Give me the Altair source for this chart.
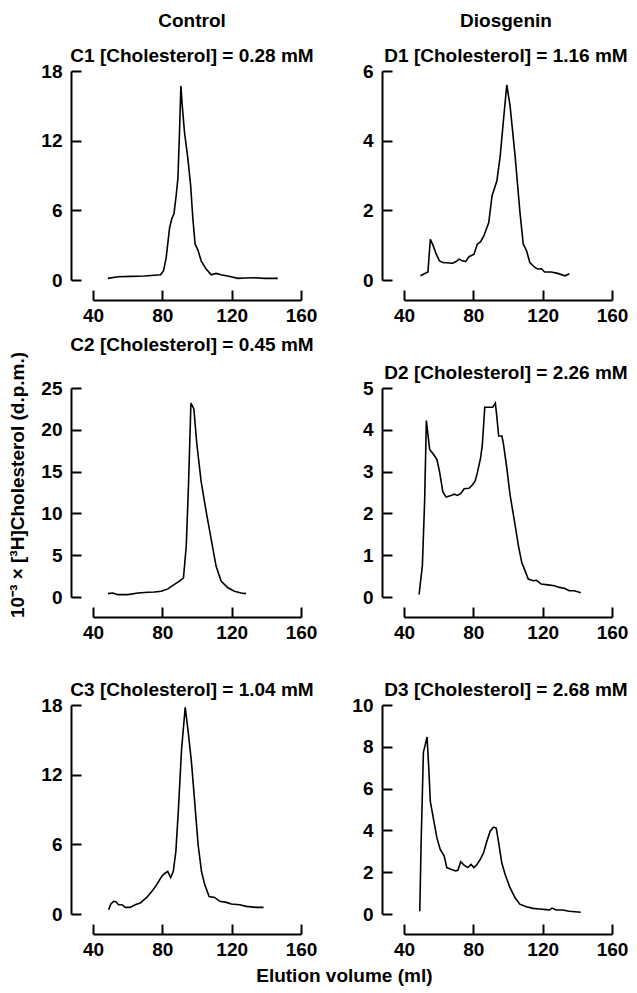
import altair as alt
import pandas as pd

FONT = "Liberation Sans"
FS = 19

# ---- data ----
c1_x = [48.6, 54.4, 62.1, 69.8, 79.0, 80.7, 82.2, 84.2, 85.5, 86.7, 88.0, 89.0, 89.9, 90.7, 91.5, 92.8, 94.7, 96.3, 97.6, 98.9, 100.5, 102.4, 105.3, 108.2, 111.0, 113.9, 119.7, 123.5, 127.4, 133.1, 138.9, 146.6]
c1_y = [0.14, 0.28, 0.31, 0.34, 0.45, 0.8, 1.9, 4.5, 5.3, 5.7, 7.3, 8.8, 12.7, 16.7, 15.0, 12.7, 10.5, 8.2, 5.3, 3.1, 2.6, 1.65, 0.94, 0.45, 0.57, 0.45, 0.28, 0.14, 0.17, 0.2, 0.14, 0.14]

d1_x = [49.5, 52.9, 53.8, 55.2, 56.7, 58.6, 60.5, 62.4, 68.1, 70.0, 71.8, 73.7, 75.6, 77.5, 80.4, 82.3, 84.2, 86.1, 88.9, 90.8, 93.6, 95.5, 97.4, 99.3, 101.2, 104.1, 106.9, 108.8, 110.7, 112.6, 115.5, 117.4, 119.2, 121.1, 124.9, 128.7, 132.9, 135.4]
d1_y = [0.12, 0.21, 0.23, 1.17, 1.0, 0.74, 0.55, 0.5, 0.48, 0.53, 0.6, 0.55, 0.53, 0.67, 0.74, 1.03, 1.1, 1.27, 1.65, 2.42, 2.85, 3.56, 4.6, 5.6, 5.0, 3.56, 1.94, 1.03, 0.84, 0.5, 0.36, 0.31, 0.33, 0.23, 0.23, 0.19, 0.12, 0.18]

c2_x = [48.6, 51.5, 54.4, 60.2, 65.9, 71.7, 75.5, 79.4, 83.2, 87.0, 89.9, 92.2, 93.8, 95.1, 96.5, 98.2, 99.9, 102.4, 105.3, 108.2, 111.0, 113.9, 117.8, 121.6, 125.4, 128.3]
c2_y = [0.4, 0.48, 0.28, 0.28, 0.48, 0.57, 0.6, 0.69, 0.97, 1.5, 1.9, 2.3, 6.1, 13.4, 23.2, 22.5, 18.3, 13.8, 10.2, 6.9, 3.7, 1.9, 1.1, 0.69, 0.48, 0.4]

d2_x = [48.7, 50.6, 51.9, 52.9, 54.8, 57.1, 59.0, 60.5, 62.4, 64.3, 67.1, 69.0, 70.9, 72.8, 74.7, 77.5, 79.4, 81.0, 82.3, 84.2, 85.2, 86.6, 88.9, 91.2, 92.7, 93.6, 94.6, 96.5, 97.4, 99.3, 101.2, 104.1, 106.0, 107.9, 109.8, 111.7, 114.5, 116.4, 119.2, 123.0, 126.8, 129.6, 132.5, 135.4, 138.3, 142.0]
d2_y = [0.06, 0.75, 2.3, 4.22, 3.53, 3.41, 3.29, 3.0, 2.52, 2.39, 2.43, 2.46, 2.43, 2.48, 2.59, 2.6, 2.68, 2.77, 2.97, 3.33, 3.65, 4.54, 4.54, 4.54, 4.64, 4.3, 3.85, 3.85, 3.65, 3.09, 2.44, 1.72, 1.23, 0.83, 0.63, 0.43, 0.39, 0.4, 0.31, 0.29, 0.27, 0.23, 0.21, 0.15, 0.15, 0.1]

c3_x = [49.0, 50.3, 51.9, 53.4, 54.7, 56.7, 58.6, 61.4, 64.3, 67.2, 71.0, 73.9, 76.7, 79.6, 81.5, 83.1, 84.8, 86.3, 87.8, 89.2, 91.1, 93.2, 94.9, 96.8, 98.8, 100.7, 102.6, 104.5, 107.0, 110.2, 113.1, 116.9, 119.8, 124.6, 128.4, 134.2, 138.4]
c3_y = [0.37, 0.86, 1.09, 1.03, 0.8, 0.8, 0.57, 0.57, 0.8, 0.94, 1.43, 1.94, 2.51, 3.23, 3.51, 3.66, 3.14, 3.66, 5.37, 8.8, 14.2, 17.8, 15.7, 13.1, 9.4, 5.9, 3.66, 2.51, 1.51, 1.43, 1.09, 1.0, 0.86, 0.8, 0.66, 0.57, 0.57]

d3_x = [49.1, 49.9, 51.2, 52.2, 53.3, 54.2, 55.2, 57.1, 59.0, 60.9, 63.2, 64.7, 67.0, 69.8, 71.1, 72.7, 74.6, 76.8, 78.7, 80.3, 82.1, 84.0, 85.9, 87.8, 89.7, 91.6, 93.2, 94.5, 96.4, 98.3, 101.1, 104.0, 106.8, 110.6, 114.4, 118.2, 122.0, 123.9, 125.4, 127.7, 131.5, 135.3, 142.0]
d3_y = [0.13, 3.48, 7.75, 8.07, 8.47, 7.12, 5.38, 4.5, 3.64, 3.09, 2.77, 2.22, 2.14, 2.06, 2.09, 2.5, 2.34, 2.22, 2.37, 2.22, 2.37, 2.61, 2.93, 3.48, 3.96, 4.15, 4.11, 3.48, 2.45, 1.9, 1.27, 0.79, 0.47, 0.35, 0.27, 0.24, 0.21, 0.19, 0.28, 0.19, 0.19, 0.13, 0.08]

x_ticks = [40, 80, 120, 160]
panel_titles = ["C1 [Cholesterol] = 0.28 mM", "D1 [Cholesterol] = 1.16 mM",
                "C2 [Cholesterol] = 0.45 mM", "D2 [Cholesterol] = 2.26 mM",
                "C3 [Cholesterol] = 1.04 mM", "D3 [Cholesterol] = 2.68 mM"]
column_titles = ["Control", "Diosgenin"]
y_ticks = [[0, 6, 12, 18], [0, 2, 4, 6],
           [0, 5, 10, 15, 20, 25], [0, 1, 2, 3, 4, 5],
           [0, 6, 12, 18], [0, 2, 4, 6, 8, 10]]
y_title = "10\u207b\u00b3 \u00d7 [\u00b3H]Cholesterol (d.p.m.)"
x_title = "Elution volume (ml)"

series = [(c1_x, c1_y), (d1_x, d1_y), (c2_x, c2_y), (d2_x, d2_y), (c3_x, c3_y), (d3_x, d3_y)]

W, H = 208, 209


def panel(i):
    xs, ys = series[i]
    df = pd.DataFrame({"x": xs, "y": ys})
    yt = y_ticks[i]
    xscale = alt.Scale(domain=[40, 160], nice=False, zero=False)
    yscale = alt.Scale(domain=[0, yt[-1]], nice=False)
    lab = dict(labelFont=FONT, labelFontSize=FS, labelFontWeight="bold", labelColor="black")
    ax_a = alt.Axis(orient="bottom", offset=20, values=x_ticks, ticks=False, tickSize=0,
                    domain=True, domainColor="black", domainWidth=2, labelPadding=6,
                    grid=False, title=None, labelFlush=False, **lab)
    ax_b = alt.Axis(orient="bottom", offset=10, values=x_ticks, ticks=True, tickSize=10,
                    tickWidth=2, tickColor="black", domain=False, labels=False,
                    grid=False, title=None)
    ay_kw = dict(orient="left", offset=22, values=yt, ticks=False, tickSize=0,
                 domain=True, domainColor="black", domainWidth=2, labelPadding=9,
                 grid=False, labelFlush=False, **lab)
    if i == 2:
        ay_a = alt.Axis(title=y_title, titleFont=FONT, titleFontSize=FS, titleFontWeight="bold",
                        titleColor="black", titlePadding=13, titleY=H / 2 - 8, **ay_kw)
    else:
        ay_a = alt.Axis(title=None, **ay_kw)
    ay_b = alt.Axis(orient="left", offset=12, values=yt, ticks=True, tickSize=10,
                    tickWidth=2, tickColor="black", domain=False, labels=False,
                    grid=False, title=None)
    line = alt.Chart(df).mark_line(color="black", strokeWidth=1.6).encode(
        x=alt.X("x:Q", scale=xscale, axis=ax_a),
        y=alt.Y("y:Q", scale=yscale, axis=ay_a),
    )
    ghost = alt.Chart(df).mark_line(strokeOpacity=0).encode(
        x=alt.X("x:Q", scale=xscale, axis=ax_b),
        y=alt.Y("y:Q", scale=yscale, axis=ay_b),
    )
    tkw = dict(font=FONT, fontSize=FS, fontWeight="bold", color="black",
               anchor="middle", frame="group", offset=-4, dx=-5 if i % 2 == 0 else -2)
    if i < 2:
        title = alt.TitleParams(text=column_titles[i], subtitle=panel_titles[i],
                                subtitleFont=FONT, subtitleFontSize=FS,
                                subtitleFontWeight="bold", subtitleColor="black",
                                subtitlePadding=16, **tkw)
    else:
        title = alt.TitleParams(text=panel_titles[i], **tkw)
    return alt.layer(line, ghost).resolve_axis(x="independent", y="independent").properties(
        width=W, height=H, title=title)


chart = alt.concat(*[panel(i) for i in range(6)], columns=2,
                   spacing={"row": 108, "column": 103}, bounds="flush")
chart = chart.properties(
    title=alt.TitleParams(text=x_title, orient="bottom", anchor="middle", font=FONT,
                          fontSize=FS, fontWeight="bold", color="black", offset=8, dx=26),
    padding={"left": 0, "top": 4, "right": 0, "bottom": 0},
).configure_view(stroke=None)

chart.save("out.html", embed_options={"renderer": "svg", "actions": False})
